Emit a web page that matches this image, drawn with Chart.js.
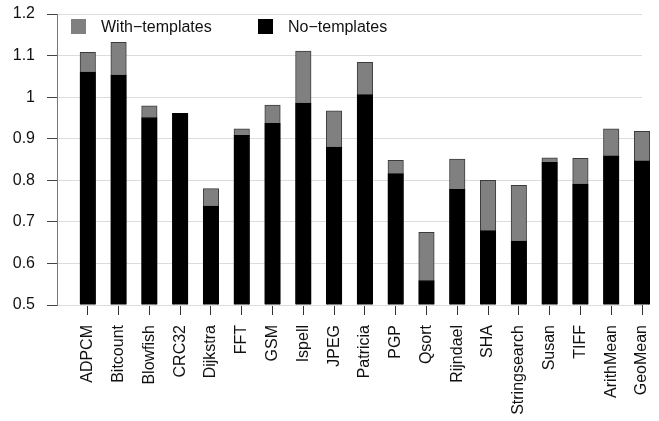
<!DOCTYPE html>
<html>
<head>
<meta charset="utf-8">
<script src="https://cdn.jsdelivr.net/npm/chart.js@4"></script>
<style>
  html, body { margin: 0; padding: 0; background: #fff; }
  #wrap { position: relative; width: 659px; height: 421px; }
  canvas { position: absolute; left: 0; top: 0; }
  .leg { position: absolute; font: 16px "Liberation Sans", Arial, sans-serif; color: #111; line-height: 16px; }
  .sw { position: absolute; width: 15px; height: 15px; }
</style>
</head>
<body>
<div id="wrap">
  <canvas id="c" width="659" height="421"></canvas>
  <div class="sw" style="left:71px;top:19px;background:#808080;"></div>
  <div class="leg" id="leg1" style="left:101px;top:19px;"></div>
  <div class="sw" style="left:258px;top:19px;background:#000;"></div>
  <div class="leg" id="leg2" style="left:288px;top:19px;"></div>
</div>
<script>
const categories = ['ADPCM','Bitcount','Blowfish','CRC32','Dijkstra','FFT','GSM','Ispell','JPEG','Patricia','PGP','Qsort','Rijndael','SHA','Stringsearch','Susan','TIFF','ArithMean','GeoMean'];
const withTemplates = [1.108,1.132,0.979,0.961,0.780,0.924,0.981,1.111,0.967,1.084,0.848,0.675,0.851,0.800,0.788,0.854,0.853,0.924,0.918];
const noTemplates   = [1.060,1.053,0.951,0.961,0.738,0.908,0.937,0.986,0.880,1.006,0.816,0.559,0.778,0.679,0.654,0.843,0.791,0.859,0.847];
const seriesNames = ['With\u2212templates','No\u2212templates'];
const yTickValues = [0.5,0.6,0.7,0.8,0.9,1.0,1.1,1.2];

document.getElementById('leg1').textContent = seriesNames[0];
document.getElementById('leg2').textContent = seriesNames[1];

const FONT = '"Liberation Sans", Arial, sans-serif';
const toPoints = arr => arr.map((v, i) => ({ x: i, y: v }));

new Chart(document.getElementById('c'), {
  type: 'bar',
  data: {
    datasets: [
      {
        label: seriesNames[0],
        data: toPoints(withTemplates),
        backgroundColor: '#808080',
        borderColor: '#3c3c3c',
        borderWidth: 1,
        borderSkipped: 'bottom',
        base: 0.5,
        order: 2
      },
      {
        label: seriesNames[1],
        data: toPoints(noTemplates),
        backgroundColor: '#000000',
        borderColor: '#000000',
        borderWidth: 1,
        borderSkipped: 'bottom',
        base: 0.5,
        order: 1
      }
    ]
  },
  options: {
    responsive: false,
    animation: false,
    devicePixelRatio: 1,
    layout: { padding: { left: 0, right: 17, top: 14, bottom: 0 } },
    datasets: { bar: { grouped: false, barThickness: 15.5, clip: { left: false, top: false, right: false, bottom: 0 } } },
    plugins: { legend: { display: false }, tooltip: { enabled: false } },
    scales: {
      x: {
        type: 'linear',
        offset: false,
        min: -1,
        max: 18,
        afterBuildTicks: s => { s.ticks = categories.map((c, i) => ({ value: i })); },
        afterFit: s => { s.height = 116; s.paddingLeft = 0; s.paddingRight = 0; },
        ticks: {
          autoSkip: false,
          minRotation: 90,
          maxRotation: 90,
          padding: 10,
          color: '#111',
          font: { family: FONT, size: 16 },
          callback: v => categories[v] !== undefined ? categories[v] : ''
        },
        grid: { display: true, offset: false, drawOnChartArea: false, drawTicks: true, tickLength: 10, tickColor: '#333', tickWidth: 1 },
        border: { display: false }
      },
      y: {
        type: 'linear',
        min: 0.5,
        max: 1.2,
        afterBuildTicks: s => { s.ticks = yTickValues.map(v => ({ value: v })); },
        afterFit: s => { s.width = 57; s.paddingTop = 0; s.paddingBottom = 0; },
        ticks: {
          padding: 12,
          color: '#111',
          font: { family: FONT, size: 16 },
          callback: v => String(Math.round(v * 10) / 10)
        },
        grid: { color: '#dcdcdc', lineWidth: 1, tickLength: 10, tickColor: '#444', tickWidth: 1 },
        border: { display: true, color: '#777', width: 1 }
      }
    }
  }
});
</script>
</body>
</html>
